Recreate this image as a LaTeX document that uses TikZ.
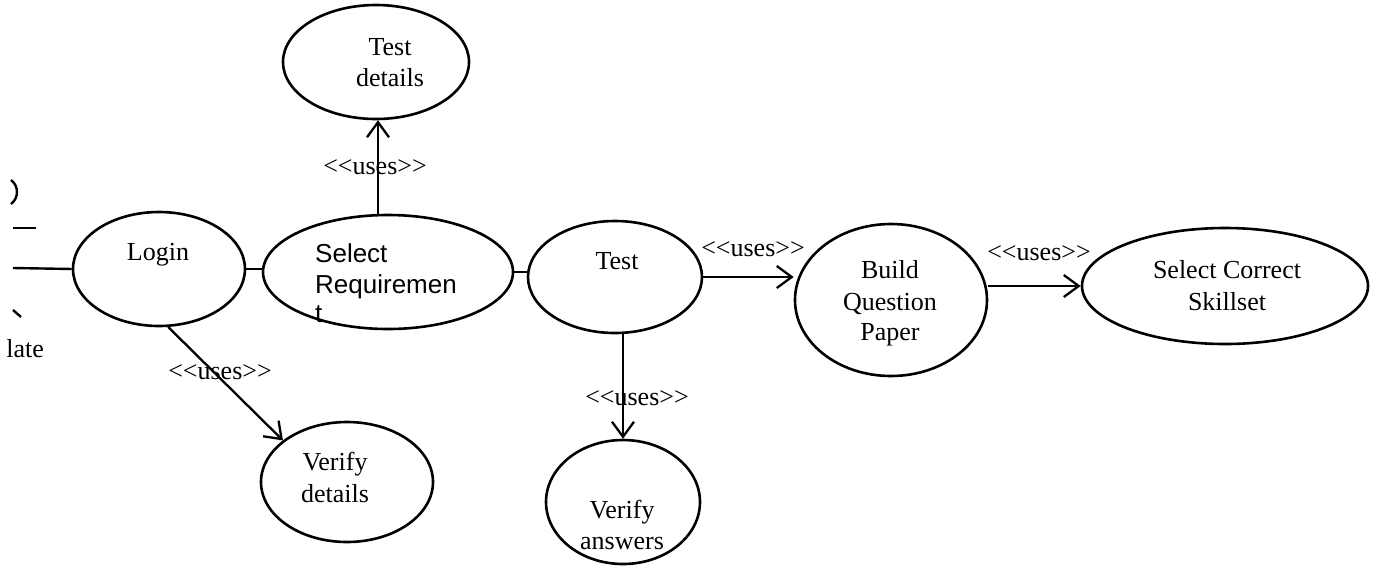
\documentclass[tikz,border=0pt]{standalone}
\usepackage{fontspec}
\setmainfont{Liberation Serif}
\newfontfamily\arialfont{Liberation Sans}
\usetikzlibrary{shapes.geometric,arrows.meta}

% stereotype text, with the angle brackets kept apart
\newcommand{\usesst}{<\kern0pt<uses>\kern0pt>}

\tikzset{
  usecase/.style={ellipse, draw, line width=2.6pt, inner sep=0pt},
  txt/.style={inner sep=0pt, anchor=base, font=\fontsize{26}{30}\selectfont},
  sanstxt/.style={inner sep=0pt, anchor=base west, font=\arialfont\fontsize{26}{30}\selectfont},
  lbl/.style={inner sep=0pt, font=\fontsize{26}{30}\selectfont},
  assoc/.style={line width=2.4pt},
  usesarrow/.style={line width=2.3pt, -{Straight Barb[length=15pt,width=22pt,line width=2.3pt]}},
}

\begin{document}
\begin{tikzpicture}[x=1pt,y=-1pt]
\useasboundingbox (0,0) rectangle (1376,566);

% use cases
\node[usecase, minimum width=186pt, minimum height=114pt] (testdet) at (376,62) {};
\node[usecase, minimum width=172pt, minimum height=114pt] (login) at (159,269) {};
\node[usecase, minimum width=250pt, minimum height=114pt] (selreq) at (388,272) {};
\node[usecase, minimum width=174pt, minimum height=112pt] (test) at (615,277) {};
\node[usecase, minimum width=192pt, minimum height=152pt] (build) at (891,300) {};
\node[usecase, minimum width=286pt, minimum height=116pt] (skill) at (1225,286) {};
\node[usecase, minimum width=172pt, minimum height=120pt] (verdet) at (347,482) {};
\node[usecase, minimum width=154pt, minimum height=124pt] (verans) at (623,502) {};

% use case names
\node[txt] (testdet1) at (390,55) {Test};
\node[txt] (testdet2) at (390,86) {details};
\node[txt] (login1) at (158,260) {Login};
\node[sanstxt] (selreq1) at (315,262) {Select};
\node[sanstxt] (selreq2) at (315,293) {Requiremen};
\node[sanstxt] (selreq3) at (315,322) {t};
\node[txt] (test1) at (617,269) {Test};
\node[txt] (build1) at (890,278) {Build};
\node[txt] (build2) at (890,310) {Question};
\node[txt] (build3) at (890,340) {Paper};
\node[txt] (skill1) at (1227,278) {Select Correct};
\node[txt] (skill2) at (1227,310) {Skillset};
\node[txt] (verdet1) at (335,470) {Verify};
\node[txt] (verdet2) at (335,502) {details};
\node[txt] (verans1) at (622,518) {Verify};
\node[txt] (verans2) at (622,549) {answers};

% actor at the left edge, mostly outside the page
\coordinate (actor) at (13,268);
\coordinate (arml) at (13,228);
\coordinate (armr) at (36,228);
\coordinate (legt) at (13,310);
\coordinate (legb) at (21,317);
\coordinate (headt) at (11,180);
\coordinate (headb) at (11,204);
\draw[assoc] (headt) .. controls (19,186) and (19,198) .. (headb);
\draw[assoc] (arml) -- (armr);
\draw[assoc] (legt) -- (legb);
\node[txt, anchor=base east] (actorname) at (44,357) {late};

% associations
\draw[assoc] (actor) -- (login.west);
\draw[assoc] (login.east) -- (login.east -| selreq.west);
\draw[assoc] (selreq.east) -- (selreq.east -| test.west);

% <<uses>> dependencies
\coordinate (upx) at (378,0);
\draw[usesarrow] (selreq.north -| upx) -- (testdet.south -| upx);
\draw[usesarrow] (test.east) -- (test.east -| build.west);
\draw[usesarrow] (build.east |- skill.west) -- (skill.west);
\draw[usesarrow] (test.south -| verans.north) -- (verans.north);
\draw[usesarrow] (login.-81) -- (verdet.147);

\node[lbl] (uses1) at (375,167) {\usesst};
\node[lbl] (uses2) at (753,249) {\usesst};
\node[lbl] (uses3) at (1039,253) {\usesst};
\node[lbl] (uses4) at (637,398) {\usesst};
\node[lbl] (uses5) at (220,372) {\usesst};
\end{tikzpicture}
\end{document}
